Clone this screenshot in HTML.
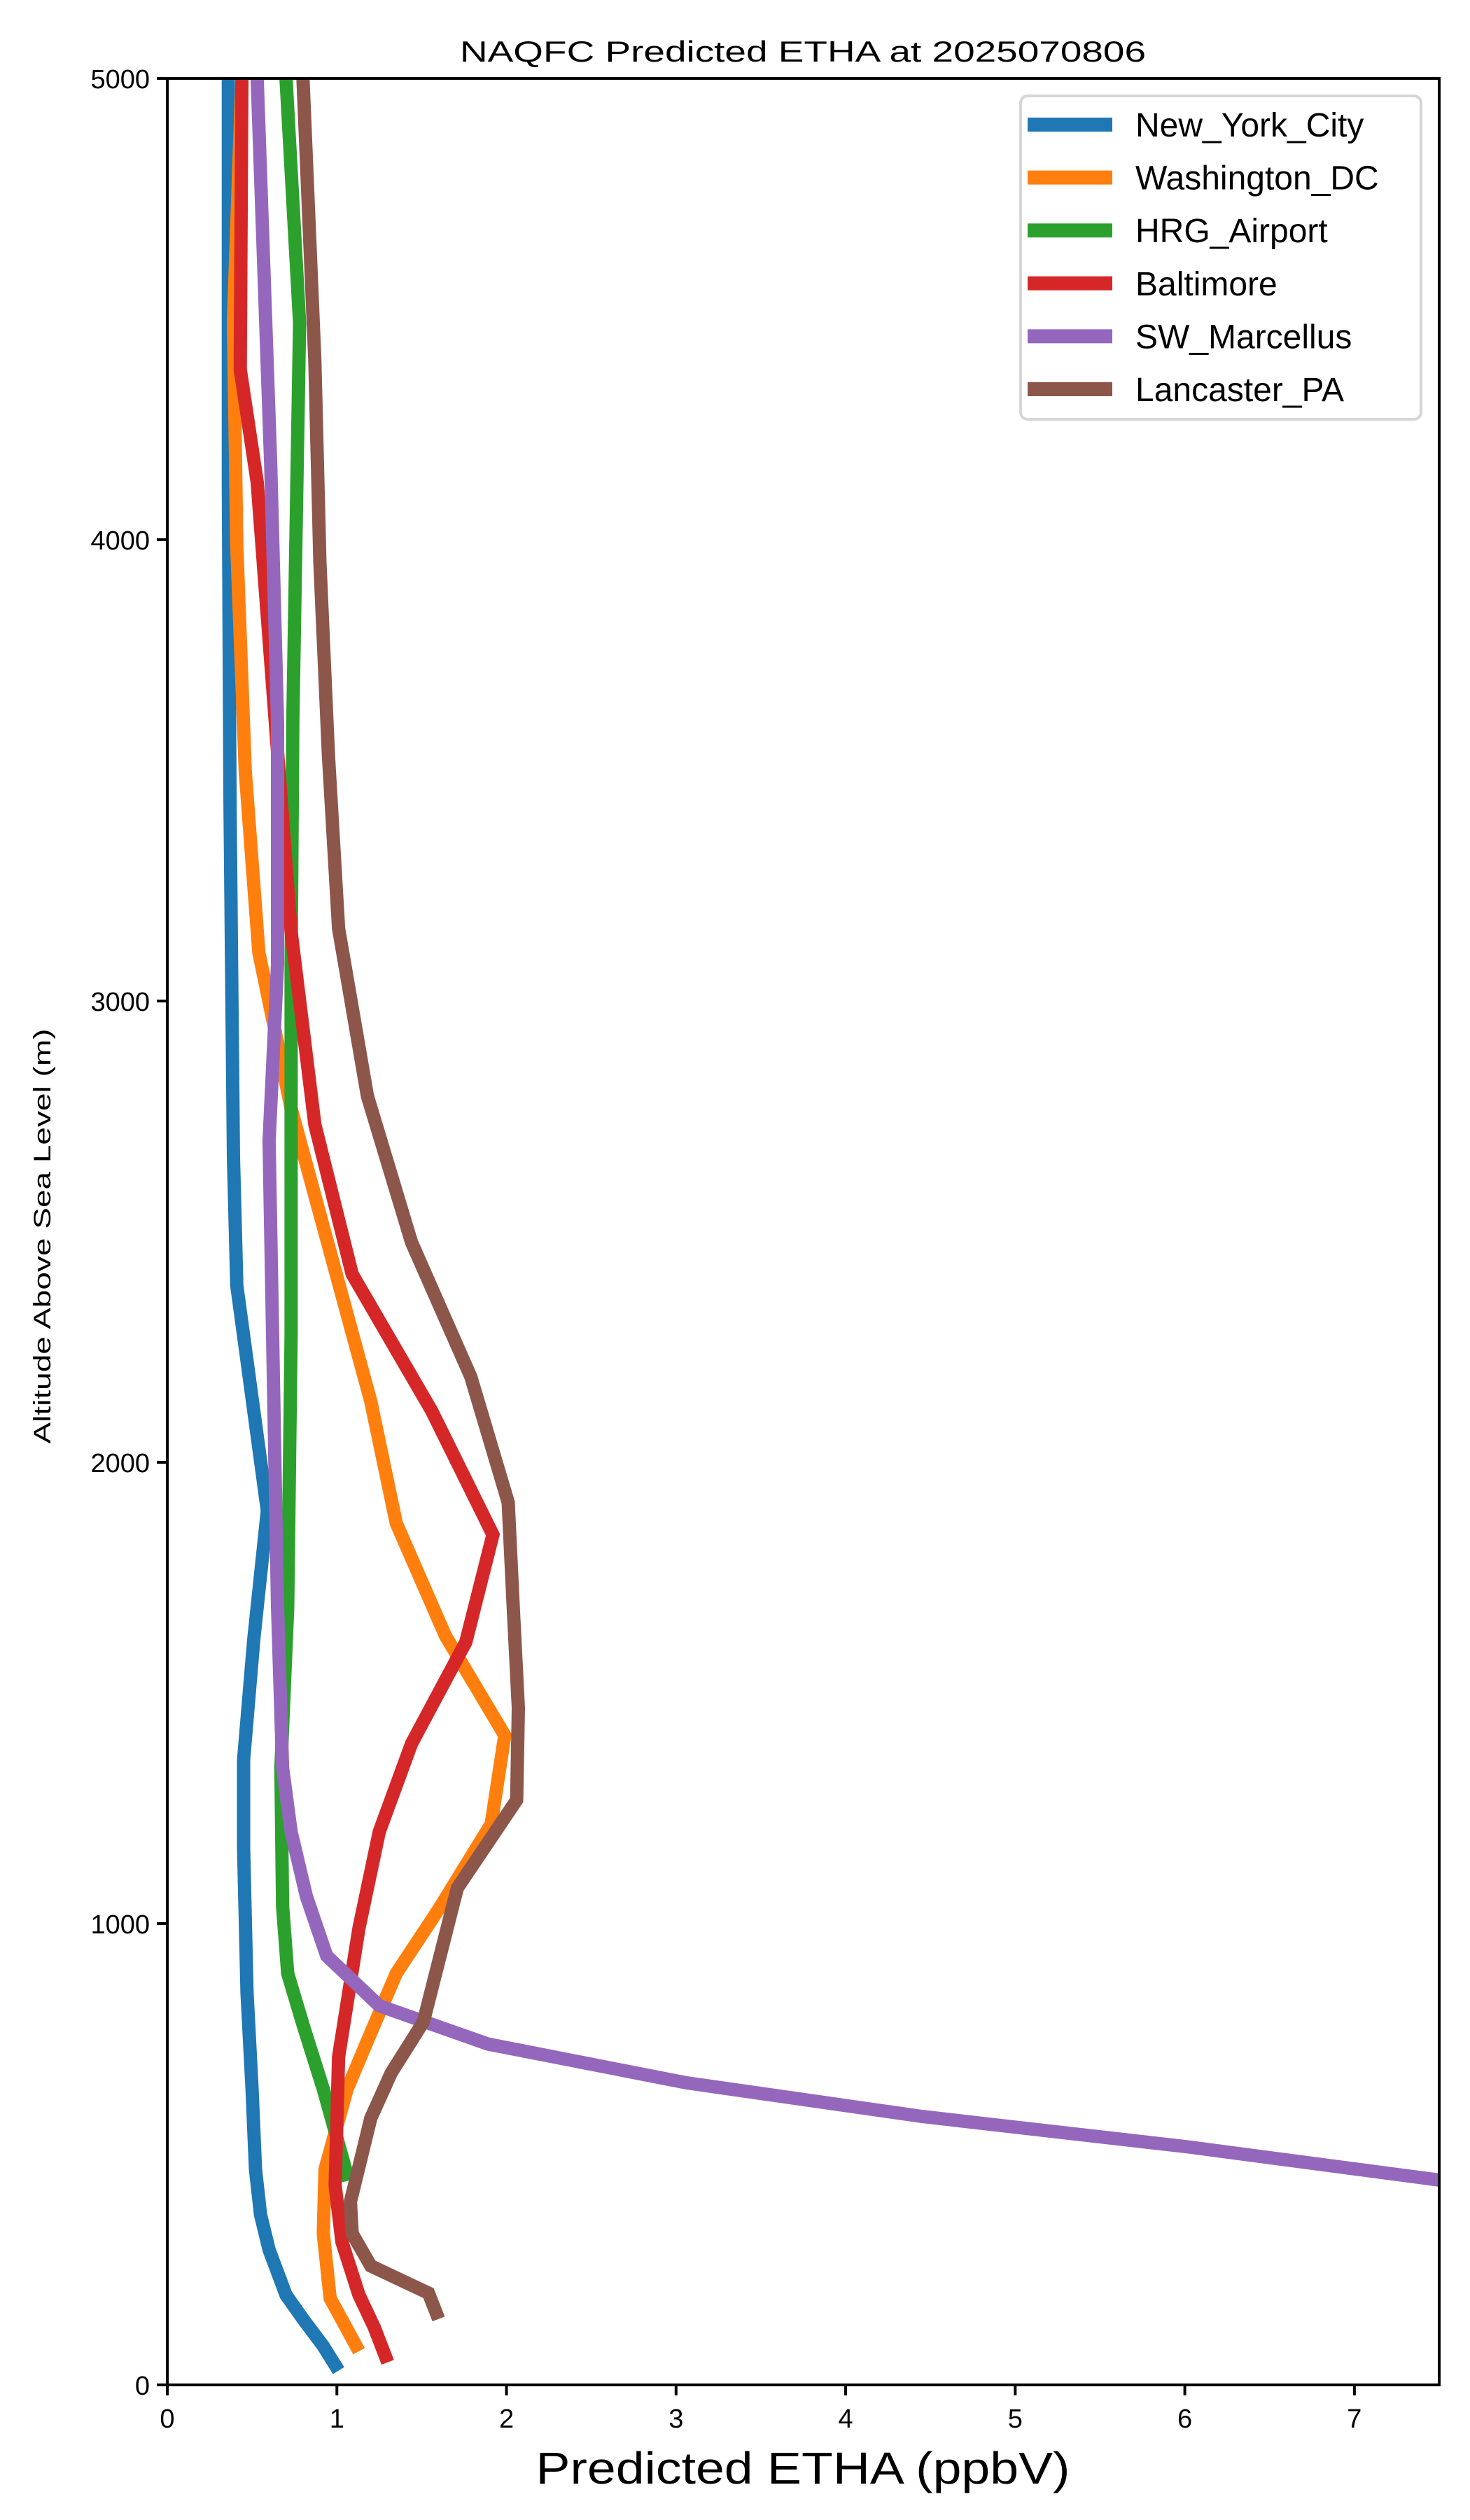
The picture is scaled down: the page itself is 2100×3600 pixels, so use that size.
<!DOCTYPE html>
<html><head><meta charset="utf-8"><style>
html,body{margin:0;padding:0;background:#fff;}
svg{display:block;font-family:"Liberation Sans","DejaVu Sans",sans-serif;}
</style></head><body>
<svg id="chart" width="2100" height="3600" viewBox="0 0 2100 3600" xmlns="http://www.w3.org/2000/svg">
<rect x="0" y="0" width="2100" height="3600" fill="#fff"/>
<text x="1147" y="88" font-size="42" text-anchor="middle" textLength="980" lengthAdjust="spacingAndGlyphs">NAQFC Predicted ETHA at 2025070806</text>
<defs><clipPath id="plotclip"><rect x="239" y="112" width="1817" height="3295"/></clipPath></defs>
<g id="series" clip-path="url(#plotclip)"></g>
<g id="axes"></g>
<text x="1147" y="3548" font-size="64" text-anchor="middle" textLength="763" lengthAdjust="spacingAndGlyphs">Predicted ETHA (ppbV)</text>
<text x="0" y="0" font-size="34" text-anchor="middle" transform="translate(72,1766) rotate(-90)" textLength="593" lengthAdjust="spacingAndGlyphs">Altitude Above Sea Level (m)</text>
<g id="legend"></g>
</svg>
<script>
const seriesNames = ["New_York_City","Washington_DC","HRG_Airport","Baltimore","SW_Marcellus","Lancaster_PA"];
const seriesColors = ["#1f77b4","#ff7f0e","#2ca02c","#d62728","#9467bd","#8c564b"];
const nycX = [1.01,0.92,0.80,0.70,0.60,0.55,0.52,0.50,0.47,0.45,0.45,0.51,0.59,0.41,0.39,0.37,0.36,0.36];
const nycAlt = [31,84,143,195,293,369,467,641,850,1164,1355,1617,1895,2383,2662,3428,4125,5000];
const dcX = [1.13,0.96,0.92,0.93,1.06,1.18,1.35,1.60,1.91,1.99,1.64,1.35,1.20,0.73,0.54,0.46,0.41,0.39,0.44];
const dcAlt = [73,188,328,467,641,746,892,1031,1216,1408,1624,1868,2132,2767,3105,3498,3986,4474,5000];
const hrgX = [1.07,0.92,0.80,0.71,0.68,0.67,0.71,0.73,0.73,0.74,0.78,0.70];
const hrgAlt = [443,641,781,892,1038,1338,1686,2279,3080,3603,4470,5000];
const balX = [1.30,1.22,1.13,1.03,0.99,1.01,1.13,1.25,1.44,1.76,1.92,1.56,1.09,0.87,0.73,0.53,0.43,0.44];
const balAlt = [49,125,195,310,432,711,990,1199,1390,1610,1843,2111,2408,2732,3150,4125,4369,5000];
const swX = [8.2,6.02,4.45,3.06,1.89,1.25,0.94,0.82,0.73,0.68,0.65,0.60,0.65,0.65,0.61,0.53];
const swAlt = [410,516,582,655,739,822,930,1059,1199,1338,1686,2697,3080,3603,4160,5000];
const lanX = [1.60,1.54,1.20,1.09,1.08,1.20,1.32,1.51,1.71,2.06,2.07,2.04,2.01,1.79,1.44,1.18,1.01,0.95,0.90,0.87,0.80];
const lanAlt = [143,199,258,328,397,578,676,787,1077,1268,1467,1686,1913,2185,2477,2794,3157,3533,3951,4387,5000];
const xTicks = [0,1,2,3,4,5,6,7];
const yTicks = [0,1000,2000,3000,4000,5000];

const NS="http://www.w3.org/2000/svg";
const X0=239, X1=2056, Y0=3407, Y1=112, XMAX=7.5, YMAX=5000;
function xs(v){return X0+(X1-X0)*v/XMAX;}
function ys(v){return Y0-(Y0-Y1)*v/YMAX;}
function mk(tag,attrs,parent){const e=document.createElementNS(NS,tag);for(const k in attrs)e.setAttribute(k,attrs[k]);parent.appendChild(e);return e;}

const allX=[nycX,dcX,hrgX,balX,swX,lanX], allA=[nycAlt,dcAlt,hrgAlt,balAlt,swAlt,lanAlt];
const sg=document.getElementById('series');
allX.forEach((xv,i)=>{
  const pts=xv.map((v,j)=>xs(v).toFixed(1)+','+ys(allA[i][j]).toFixed(1)).join(' ');
  const pl=mk('polyline',{points:pts,fill:'none',stroke:seriesColors[i],'stroke-width':19,'stroke-linejoin':'miter','stroke-linecap':'butt'},sg);
  
  
});

const ax=document.getElementById('axes');
const frame=mk('rect',{x:X0,y:Y1,width:X1-X0,height:Y0-Y1,fill:'none',stroke:'#000','stroke-width':4},ax);


xTicks.forEach(t=>{
  const x=xs(t);
  const tk=mk('line',{x1:x,y1:Y0,x2:x,y2:Y0+15,stroke:'#000','stroke-width':4},ax);
  
  
  const tl=mk('text',{x:x,y:3468,'font-size':38,'text-anchor':'middle'},ax);
  tl.textContent=t;
  
  
});
yTicks.forEach(t=>{
  const y=ys(t);
  const tk=mk('line',{x1:X0-15,y1:y,x2:X0,y2:y,stroke:'#000','stroke-width':4},ax);
  
  
  const tl=mk('text',{x:X0-25,y:y+14,'font-size':38,'text-anchor':'end'},ax);
  tl.textContent=t;
  
  
});

const lg=document.getElementById('legend');
const lb=mk('rect',{x:1458,y:137,width:572,height:462,rx:10,fill:'#fff','fill-opacity':0.8,stroke:'#d6d6d6','stroke-width':4},lg);


seriesNames.forEach((n,i)=>{
  const y=178+i*75.6;
  const ln=mk('line',{x1:1468,y1:y,x2:1589,y2:y,stroke:seriesColors[i],'stroke-width':20},lg);
  
  
  const tx=mk('text',{x:1622,y:y+17,'font-size':48},lg);
  tx.textContent=n;
  
  
});
</script>
</body></html>
